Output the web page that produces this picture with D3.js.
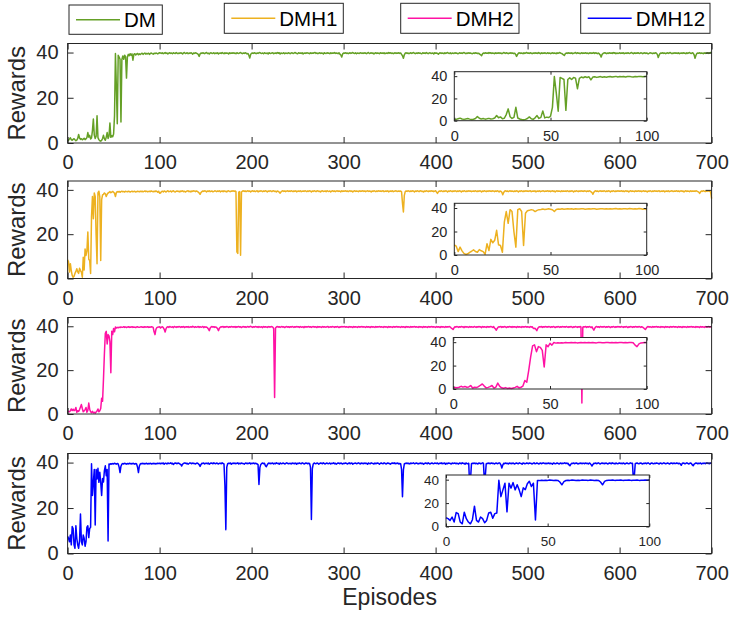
<!DOCTYPE html>
<html>
<head>
<meta charset="utf-8">
<script src="https://cdn.jsdelivr.net/npm/d3@7/dist/d3.min.js"></script>
<style>
  body { margin: 0; background: #ffffff; }
  svg { display: block; font-family: "Liberation Sans", Arial, Helvetica, sans-serif; }
</style>
</head>
<body>
<svg id="chart" width="731" height="617"></svg>
<script>
// rewards per episode, episodes 0..100 (these also fill the zoomed insets)
const dmEarly = [
  1.0,1.2,1.8,2.3,1.5,1.2,1.6,1.9,1.4,1.0,
  1.3,2.0,3.8,2.2,1.6,1.9,1.4,1.7,2.1,1.5,
  1.8,2.4,4.6,2.6,3.4,1.8,2.2,5.5,10.6,3.5,
  2.0,3.0,12.0,2.4,1.5,1.0,0.8,1.2,2.0,3.4,
  1.8,1.2,2.6,4.6,2.0,3.0,8.8,2.5,3.2,2.8,
  4.0,12.0,39.6,25.0,8.5,38.8,38.0,37.0,9.3,37.0,
  38.5,37.0,38.8,38.2,28.7,38.0,39.2,38.6,39.5,38.8,
  39.4,36.6,39.2,39.5,38.9,39.3,39.6,39.0,39.4,39.1,
  39.5,39.7,39.2,39.5,39.8,39.3,39.6,39.4,39.7,39.2,
  39.6,39.8,39.5,39.3,39.7,39.5,39.8,39.6,39.4,39.7,
  39.9
];
const dmh1Early = [
  8.5,7.5,2.9,6.7,3.5,1.4,0.5,1.0,2.3,3.2,
  4.4,3.0,2.3,4.6,3.6,2.9,0.6,9.6,3.8,13.3,
  10.4,12.5,21.0,8.7,8.1,2.3,28.0,37.0,27.0,38.6,
  37.0,19.7,6.7,38.6,39.4,37.0,8.1,35.6,37.7,38.0,
  38.6,38.2,37.0,38.0,38.6,38.8,39.2,38.7,39.0,39.3,
  38.9,38.5,37.0,38.8,39.2,39.0,39.3,38.9,39.2,39.4,
  39.1,39.3,39.0,39.4,39.2,39.1,39.4,39.3,39.0,39.2,
  39.4,39.1,39.3,39.4,39.0,39.2,39.4,39.3,39.1,39.4,
  39.2,39.4,39.1,39.3,39.5,39.2,39.4,39.1,39.3,39.4,
  39.2,39.5,39.3,39.1,39.4,39.2,39.5,39.3,38.9,39.4,
  38.5
];
const dmh2Early = [
  1.0,1.2,1.0,1.5,2.3,1.6,2.2,1.5,1.8,3.0,
  0.8,1.5,1.2,2.0,3.2,4.3,2.5,1.0,1.4,2.0,
  3.0,0.8,1.6,5.0,2.2,1.0,0.6,1.2,0.5,0.8,
  0.4,0.9,1.4,2.3,1.0,1.5,2.5,7.2,5.8,16.0,
  27.5,36.8,37.7,31.9,36.2,35.6,33.0,18.8,37.7,36.2,
  39.0,37.5,39.7,39.2,39.5,39.3,39.6,39.4,39.7,39.5,
  39.6,39.8,39.5,39.7,39.4,39.6,39.8,39.5,39.7,39.6,
  39.8,39.5,39.7,39.6,39.4,39.7,39.8,39.6,39.5,39.7,
  39.8,39.6,39.7,39.5,39.8,39.6,39.7,39.8,39.5,39.7,
  39.6,39.8,39.7,39.5,37.5,36.2,38.6,39.4,39.6,39.7,
  39.8
];
const dmh12Early = [
  7.5,6.7,5.2,8.1,3.8,11.9,11.0,3.8,2.3,12.2,
  6.7,3.8,2.3,5.8,17.4,5.2,3.8,8.1,6.7,3.2,
  5.2,11.6,12.2,7.0,11.0,11.5,39.5,25.5,31.3,37.0,
  12.5,37.0,32.8,37.5,31.3,35.7,31.3,25.5,33.0,31.5,
  36.5,38.6,34.2,37.0,5.5,39.4,39.2,39.5,39.3,39.6,
  39.4,39.7,39.5,39.3,39.6,39.4,38.0,35.6,38.4,39.3,
  39.6,39.4,39.7,39.5,39.3,39.6,39.4,39.7,39.5,39.6,
  39.4,39.7,39.5,39.3,39.6,39.4,38.0,35.6,38.5,39.4,
  39.6,39.5,39.7,39.4,39.6,39.5,39.7,39.4,39.6,39.5,
  39.7,39.4,39.6,39.5,39.7,39.4,39.6,39.5,39.7,39.6,
  39.7
];

// rewards per episode, episodes 101..700 (20 per row)
const dmLate = [
  39.8,39.6,39.9,39.5,39.7,40.0,39.6,39.8,39.4,39.7,39.9,39.6,39.8,39.5,39.9,39.7,39.6,40.0,39.7,39.5,
  39.8,39.6,39.9,39.7,39.4,39.8,40.0,39.6,39.7,39.9,39.5,39.8,39.6,39.9,39.7,39.3,39.8,39.6,39.9,39.7,
  39.5,39.2,38.3,39.4,39.8,39.6,39.9,39.7,39.5,39.8,40.0,39.6,39.7,39.4,39.8,39.9,39.6,39.7,39.9,39.5,
  39.8,39.6,39.9,39.4,39.7,39.8,39.6,40.0,39.7,39.5,39.9,39.6,39.8,39.7,39.4,39.9,39.6,39.8,39.7,39.9,
  39.6,39.8,39.5,39.9,39.7,39.6,39.8,40.0,39.7,39.5,39.8,39.6,39.9,39.7,39.4,39.6,38.8,37.6,39.2,39.7,
  39.8,39.6,39.9,39.7,39.5,39.8,39.6,39.9,40.0,39.7,39.6,39.8,39.5,39.9,39.7,39.6,39.8,39.4,39.9,39.7,
  39.6,39.8,39.9,39.5,39.7,39.8,39.6,40.0,39.7,39.9,39.4,39.8,39.6,39.7,39.9,39.5,39.8,39.7,39.6,39.9,
  39.7,39.5,39.8,39.9,39.6,39.7,40.0,39.8,39.6,39.5,39.9,39.7,39.8,39.6,39.9,39.4,39.7,39.8,39.6,39.9,
  39.8,39.7,39.5,39.9,39.6,39.8,39.7,39.9,40.0,39.6,39.8,39.5,39.7,39.9,39.6,39.8,39.7,39.4,39.9,39.7,
  39.6,39.9,39.7,39.8,39.5,39.9,39.6,39.8,39.7,40.0,39.6,39.8,39.7,39.5,39.9,39.3,38.9,38.0,39.4,39.8,
  39.7,39.9,39.6,39.8,39.5,39.7,39.9,39.6,39.8,40.0,39.7,39.6,39.9,39.5,39.8,39.7,39.6,39.9,39.8,39.6,
  39.8,39.6,39.9,39.7,39.5,39.8,40.0,39.6,39.7,39.9,39.6,39.8,39.4,39.7,39.9,39.6,39.8,39.7,39.5,39.9,
  39.7,39.8,39.6,39.9,39.5,39.7,39.8,39.6,40.0,39.7,39.9,39.6,39.8,39.5,39.7,39.9,39.6,39.8,39.7,39.9,
  39.6,39.8,39.2,38.6,37.5,39.0,39.7,39.9,39.6,39.8,39.5,39.7,39.9,39.6,39.8,40.0,39.7,39.5,39.8,39.6,
  39.9,39.7,39.8,39.6,39.5,39.9,39.7,39.8,39.6,40.0,39.7,39.5,39.8,39.9,39.6,39.7,39.8,39.4,39.9,39.7,
  39.8,39.6,39.3,39.7,39.9,39.6,39.8,39.7,39.5,39.9,39.6,39.8,40.0,39.7,39.6,39.9,39.5,39.8,39.7,39.6,
  39.9,39.7,39.8,39.5,39.6,39.9,39.7,39.8,39.6,39.9,40.0,39.7,39.5,39.8,39.6,39.9,39.7,39.8,39.6,39.5,
  39.8,39.6,39.9,39.7,39.8,39.5,39.7,39.3,39.0,38.6,39.4,39.8,39.6,39.9,39.7,39.8,39.6,40.0,39.7,39.9,
  39.6,39.8,39.7,39.5,39.9,39.6,39.8,39.7,39.9,39.6,39.8,39.5,39.7,40.0,39.8,39.6,39.9,39.7,39.5,39.8,
  39.7,39.9,39.6,39.8,39.5,39.7,39.2,38.3,39.1,39.7,39.9,39.6,39.8,39.7,39.5,39.9,39.6,39.8,40.0,39.7,
  39.8,39.6,39.9,39.7,39.5,39.8,39.6,39.9,39.7,39.8,39.6,40.0,39.7,39.5,39.9,39.6,39.8,39.7,39.9,39.6,
  39.7,39.9,39.6,39.8,39.5,39.7,39.9,39.6,39.8,39.7,39.5,39.9,39.6,39.8,40.0,39.7,39.6,39.3,39.0,38.7,
  39.5,39.8,39.6,39.9,39.7,39.8,39.6,39.9,39.5,39.7,39.8,40.0,39.6,39.9,39.7,39.8,39.5,39.7,39.9,39.6,
  39.8,39.7,39.9,39.6,39.8,39.5,39.7,39.9,39.6,39.8,39.7,40.0,39.6,39.9,39.7,39.5,39.8,39.4,38.9,38.0,
  39.2,39.6,39.8,39.9,39.7,39.5,39.8,39.6,39.9,39.7,39.8,39.6,40.0,39.7,39.9,39.5,39.8,39.6,39.7,39.9,
  39.6,39.8,39.7,39.9,39.5,39.7,39.8,39.6,39.9,39.7,39.6,39.8,40.0,39.7,39.5,39.9,39.6,39.8,39.7,39.9,
  39.7,39.6,39.9,39.8,39.5,39.7,39.9,39.6,39.8,39.7,39.4,39.6,39.9,39.8,39.7,39.5,39.8,39.6,39.9,39.7,
  39.2,37.8,38.9,39.6,39.8,39.7,39.9,39.6,39.8,39.5,39.7,39.9,39.6,39.8,40.0,39.7,39.5,39.8,39.6,39.9,
  39.7,39.8,39.6,39.9,39.5,39.7,39.8,39.6,39.9,39.7,39.8,39.5,39.9,39.6,39.8,40.0,39.7,39.6,39.9,39.7,
  39.0,37.5,38.8,39.6,39.8,39.7,39.9,39.6,39.8,39.7,39.5,39.9,39.6,39.8,39.7,39.9,39.6,39.8,40.0,39.8
];
const dmh1Late = [
  38.6,39.2,39.4,39.1,39.5,39.3,39.0,39.4,39.6,39.2,39.3,39.5,39.1,39.4,39.6,39.2,39.0,39.4,39.5,39.3,
  39.4,39.1,39.5,39.3,39.6,39.2,39.4,39.0,39.3,39.5,39.6,39.2,39.4,39.1,39.5,39.3,39.6,39.4,39.2,39.5,
  39.3,39.0,38.6,38.0,38.8,39.2,39.5,39.3,39.6,39.4,39.1,39.5,39.3,39.6,39.2,39.4,39.5,39.1,39.3,39.6,
  39.4,39.2,39.5,39.3,39.6,39.1,39.4,39.5,39.2,39.6,39.3,39.4,39.1,39.5,39.6,39.3,39.2,39.5,39.4,39.6,
  39.3,39.5,39.2,12.0,11.3,39.0,39.2,10.5,39.0,39.4,39.6,39.3,39.5,39.2,39.4,39.6,39.3,39.5,39.1,39.4,
  39.6,39.3,39.5,39.2,39.4,39.6,39.1,39.5,39.3,39.6,39.4,39.2,39.5,39.3,39.6,39.4,39.1,39.5,39.3,39.6,
  39.4,39.2,39.5,39.6,39.3,39.4,39.1,39.5,39.3,39.0,38.5,39.1,39.4,39.6,39.3,39.5,39.2,39.4,39.6,39.3,
  39.5,39.3,39.6,39.4,39.2,39.5,39.3,39.6,39.1,39.4,39.5,39.3,39.6,39.2,39.4,39.5,39.3,39.6,39.4,39.2,
  39.5,39.3,39.6,39.4,39.1,39.5,39.3,39.6,39.4,39.2,39.5,39.6,39.3,39.4,39.1,39.5,39.6,39.3,39.4,39.5,
  39.2,39.6,39.4,39.3,39.5,39.1,39.4,39.6,39.3,39.5,39.2,39.4,39.6,39.3,39.5,39.4,39.1,39.6,39.3,39.5,
  39.4,39.6,39.3,39.5,39.2,39.4,39.6,39.3,39.5,39.1,39.4,39.6,39.3,39.5,39.4,39.2,39.6,39.3,39.5,39.4,
  39.6,39.3,39.5,39.2,39.4,39.6,39.3,39.5,39.4,39.1,39.5,39.3,39.6,39.4,39.2,39.5,39.3,39.6,39.4,39.5,
  39.3,39.5,39.6,39.2,39.4,39.5,39.3,39.6,39.1,39.4,39.5,39.3,39.6,39.2,39.4,39.5,39.6,39.3,39.4,39.5,
  39.3,39.5,39.1,34.0,30.0,37.5,39.2,39.5,39.3,39.6,39.4,39.2,39.5,39.3,39.6,39.4,39.1,39.5,39.3,39.6,
  39.4,39.2,39.5,39.6,39.3,39.4,39.1,39.5,39.3,39.6,39.4,39.2,39.5,39.3,39.6,39.4,39.5,39.2,39.4,39.6,
  39.0,38.4,39.1,39.5,39.3,39.6,39.4,39.2,39.5,39.3,39.6,39.4,39.1,39.5,39.3,39.6,39.4,39.2,39.5,39.3,
  39.6,39.4,39.2,39.5,39.3,39.6,39.4,39.1,39.5,39.3,39.6,39.4,39.2,39.5,39.3,39.6,39.4,39.5,39.2,39.4,
  39.5,39.3,39.6,39.4,39.2,39.5,39.3,39.6,39.4,39.1,39.5,39.3,39.6,39.4,39.2,39.5,39.3,39.6,39.4,39.5,
  39.3,39.6,39.4,39.2,39.5,39.3,39.6,39.4,39.1,39.5,39.3,38.9,37.8,38.8,39.4,39.6,39.3,39.5,39.2,39.4,
  39.6,39.3,39.5,39.4,39.2,39.5,39.3,39.6,39.4,39.1,39.5,39.3,39.6,39.4,39.2,39.5,39.3,39.6,39.4,39.5,
  39.3,39.5,39.6,39.2,39.4,39.5,39.3,39.6,39.1,39.4,39.5,39.3,39.6,39.2,39.4,39.5,39.6,39.3,39.4,39.5,
  39.4,39.6,39.3,39.5,39.2,39.4,39.6,39.3,39.5,39.1,39.4,39.6,39.3,39.5,39.4,39.2,39.6,39.3,39.5,39.4,
  39.5,39.3,39.6,39.4,39.2,39.5,39.3,39.6,39.4,39.1,39.5,39.3,39.6,39.4,39.2,39.5,39.3,39.6,39.4,39.5,
  39.3,39.6,39.4,39.2,39.5,39.3,39.6,39.4,39.1,38.8,38.0,38.9,39.4,39.6,39.3,39.5,39.2,39.4,39.6,39.3,
  39.5,39.3,39.6,39.4,39.2,39.5,39.3,39.6,39.4,39.1,39.5,39.3,39.6,39.4,39.2,39.5,39.3,39.6,39.4,39.5,
  39.4,39.6,39.3,39.5,39.2,39.4,39.6,39.3,39.5,39.1,39.4,39.6,39.3,39.5,39.4,39.2,39.6,39.3,39.5,39.4,
  39.6,39.3,39.5,39.2,39.4,39.6,39.3,39.5,39.4,39.1,39.5,39.3,39.6,39.4,39.2,39.5,39.3,39.6,39.4,39.5,
  39.3,39.5,39.6,39.2,39.4,39.5,39.3,39.6,39.1,39.4,39.5,39.3,39.6,39.2,39.4,39.5,39.6,39.3,39.4,39.5,
  39.4,39.6,39.3,39.5,39.2,39.4,39.6,39.3,39.5,39.1,39.4,39.6,39.3,39.5,39.4,39.2,39.6,39.3,39.5,39.4,
  39.5,39.3,39.6,39.4,39.2,39.0,38.4,39.1,39.5,39.3,39.6,39.4,39.2,39.5,39.3,39.6,39.4,39.5,38.9,36.0
];
const dmh2Late = [
  39.2,39.6,39.8,39.4,38.6,37.4,38.9,39.6,39.8,39.5,39.9,39.7,39.6,39.8,39.4,39.9,39.7,39.5,39.8,39.6,
  39.9,39.7,39.5,39.8,39.6,39.9,39.4,39.7,39.8,39.6,39.9,39.5,39.7,39.8,39.6,40.0,39.7,39.5,39.8,39.6,
  39.7,39.9,39.5,39.8,39.6,39.7,39.9,39.4,39.8,39.6,39.7,39.3,38.8,38.0,39.2,39.7,39.9,39.6,39.8,39.5,
  39.7,39.4,38.9,38.0,39.1,39.6,39.8,39.7,39.9,39.5,39.8,39.6,39.9,39.7,39.5,39.8,39.6,39.9,39.7,39.8,
  39.6,39.9,39.5,39.8,39.7,39.9,39.6,39.8,39.4,39.7,39.9,39.6,39.8,39.5,39.7,39.9,39.6,39.8,40.0,39.7,
  39.5,39.8,39.6,39.9,39.7,39.8,39.5,39.9,39.6,39.7,39.8,39.4,39.9,39.6,39.8,39.7,39.5,39.9,39.6,39.8,
  39.7,39.9,39.6,39.0,7.5,39.2,39.7,39.9,39.6,39.8,39.5,39.7,39.9,39.6,39.8,39.4,39.7,39.9,39.6,39.8,
  39.5,39.8,39.6,39.9,39.7,39.5,39.8,39.6,39.9,39.7,39.8,39.5,39.9,39.6,39.7,39.8,39.4,39.9,39.6,39.8,
  39.7,39.9,39.6,39.8,39.5,39.7,39.9,39.6,39.8,39.7,39.4,39.9,39.6,39.8,39.7,39.5,39.9,39.6,39.8,39.7,
  39.6,39.8,39.9,39.5,39.7,39.8,39.6,39.9,39.7,39.5,39.8,39.6,39.9,39.7,39.4,39.8,39.6,39.9,39.7,39.8,
  39.9,39.6,39.8,39.7,39.5,39.9,39.6,39.8,39.7,39.4,39.9,39.6,39.8,39.7,39.5,39.9,39.6,39.8,39.7,39.9,
  39.6,39.8,39.7,39.5,39.9,39.6,39.8,39.7,39.4,39.9,39.6,39.8,39.7,39.5,39.9,39.6,39.8,39.7,39.9,39.6,
  39.8,39.7,39.5,39.9,39.6,39.8,39.7,39.4,39.9,39.6,39.8,39.7,39.5,39.9,39.6,39.8,39.7,39.9,39.6,39.8,
  39.7,39.5,39.9,39.6,39.8,39.7,39.4,39.9,39.6,39.8,39.7,39.5,39.9,39.6,39.8,39.7,39.9,39.6,39.8,39.7,
  39.5,39.9,39.6,39.8,39.7,39.4,39.9,39.6,39.8,39.7,39.5,39.9,39.6,39.8,39.7,39.9,39.6,39.8,39.7,39.5,
  39.9,39.6,39.8,39.7,39.4,39.9,39.6,39.8,39.7,39.5,39.9,39.6,39.8,39.7,39.9,39.6,39.2,38.9,38.5,39.3,
  39.8,39.6,39.9,39.7,39.5,39.8,39.6,39.9,39.7,39.8,39.4,39.9,39.6,39.8,39.7,39.5,39.9,39.6,39.8,39.7,
  39.6,39.9,39.7,39.5,39.8,39.6,39.9,39.7,39.8,39.4,39.9,39.6,39.8,39.7,39.5,39.9,39.6,39.8,39.7,39.9,
  39.7,39.5,39.9,39.2,38.8,38.2,39.0,39.6,39.8,39.7,39.9,39.5,39.8,39.6,39.9,39.7,39.4,39.8,39.6,39.9,
  39.7,39.8,39.5,39.9,39.6,39.8,39.7,39.4,39.9,39.6,39.8,39.7,39.5,39.9,39.6,39.8,39.7,39.9,39.6,39.8,
  39.7,39.5,39.9,39.6,39.8,39.2,38.9,39.1,38.6,38.0,39.0,39.6,39.8,39.7,39.9,39.5,39.8,39.6,39.9,39.7,
  39.8,39.6,39.9,39.7,39.5,39.8,39.6,39.9,39.7,39.4,39.8,39.6,39.9,39.7,39.5,39.8,39.6,39.9,39.7,39.8,
  39.6,39.9,39.7,39.5,39.8,39.6,39.9,39.7,39.4,39.8,39.6,39.9,39.7,39.5,39.8,39.6,39.9,39.7,5.0,39.6,
  39.8,39.7,39.9,39.5,39.8,39.6,39.9,39.7,39.4,39.8,38.9,38.2,39.1,39.7,39.9,39.6,39.8,39.5,39.9,39.7,
  39.8,39.6,39.9,39.7,39.5,39.8,39.6,39.9,39.7,39.4,39.8,39.6,39.9,39.7,39.5,39.8,39.6,39.9,39.7,39.8,
  39.6,39.9,39.7,39.5,39.8,39.6,39.9,39.7,39.4,39.8,39.6,39.9,39.7,39.5,39.8,39.6,39.9,39.7,39.8,39.6,
  39.9,39.7,39.5,39.8,39.6,39.3,38.9,38.5,39.2,39.7,39.9,39.6,39.8,39.7,39.5,39.9,39.6,39.8,39.7,39.9,
  39.6,39.8,39.7,39.5,39.9,39.6,39.8,39.7,39.4,39.9,39.6,39.8,39.7,39.5,39.9,39.6,39.8,39.7,39.9,39.6,
  39.8,39.7,39.5,39.9,39.6,39.8,39.7,39.4,39.9,39.6,39.8,39.7,39.5,39.9,39.6,39.8,39.7,39.9,39.6,39.8,
  39.7,39.5,39.9,39.6,39.8,39.7,39.4,39.9,39.6,39.8,39.7,39.5,39.9,39.6,39.8,39.7,39.9,39.6,39.8,39.9
];
const dmh12Late = [
  39.5,39.7,39.6,39.8,39.3,39.7,39.7,39.4,39.8,39.6,39.6,39.9,39.5,39.7,39.2,39.6,39.8,39.7,39.5,39.8,
  39.7,39.4,39.2,38.5,39.3,39.6,39.8,39.8,39.5,39.7,39.3,39.6,39.9,39.7,39.5,39.8,39.6,39.6,39.4,39.7,
  39.8,39.5,39.1,38.3,39.2,39.7,39.6,39.8,39.4,39.7,39.7,39.5,39.8,39.3,39.6,39.8,39.7,39.5,39.9,39.6,
  39.5,39.8,39.6,39.4,39.7,39.7,39.5,39.9,39.6,39.4,30.0,10.5,38.0,39.5,39.7,39.6,39.8,39.3,39.7,39.6,
  39.8,39.5,39.7,39.6,39.9,39.4,39.7,39.5,39.8,39.6,39.6,39.3,39.7,39.8,39.5,39.7,39.6,39.9,39.4,39.7,
  39.6,39.8,39.5,39.7,39.6,39.4,39.1,30.4,37.8,39.2,39.6,39.8,39.5,39.7,38.6,38.2,39.0,39.6,39.8,39.5,
  39.7,39.6,39.8,39.4,39.7,39.5,39.9,39.6,39.7,39.3,39.8,39.6,39.5,39.8,39.7,39.4,39.6,39.9,39.7,39.5,
  39.6,39.7,39.4,39.8,39.6,39.7,39.5,39.8,39.3,39.7,39.6,39.8,39.6,39.5,39.9,39.7,39.4,39.6,39.8,39.7,
  39.5,39.7,39.6,38.0,15.0,37.2,39.4,39.8,39.6,39.5,39.8,39.7,39.3,39.6,39.8,39.7,39.5,39.9,39.6,39.4,
  39.7,39.8,39.5,39.6,39.8,39.4,39.7,39.6,39.9,39.5,39.7,39.3,39.6,39.8,39.7,39.5,39.8,39.6,39.4,39.7,
  39.6,39.8,39.7,39.4,39.6,39.9,39.5,39.7,39.8,39.3,39.6,39.7,39.8,39.5,39.6,39.9,39.7,39.4,39.8,39.6,
  39.7,39.5,39.8,39.6,39.7,39.3,39.8,39.6,39.5,39.9,39.7,39.6,39.4,39.8,39.5,39.7,39.8,39.6,39.3,39.7,
  39.8,39.6,39.5,39.9,39.7,39.4,39.6,39.8,39.7,39.5,39.3,39.7,39.8,39.6,39.9,39.5,39.7,39.6,39.8,39.4,
  39.6,39.5,37.0,25.0,36.8,39.4,39.7,39.6,39.8,39.5,39.7,39.4,39.8,39.6,39.7,39.9,39.5,39.6,39.8,39.7,
  39.4,39.7,39.6,39.8,39.5,39.7,39.3,39.6,39.8,39.7,39.5,39.9,39.6,39.4,39.7,39.8,39.6,39.5,39.8,39.7,
  39.6,39.8,39.4,39.7,39.6,39.9,39.5,39.7,39.6,39.8,39.3,39.7,39.5,39.8,39.7,39.6,39.4,39.8,39.6,39.7,
  39.8,39.5,39.7,39.6,39.4,39.8,39.7,39.5,39.9,39.6,39.7,39.3,39.8,39.6,39.5,39.7,30.0,33.0,39.5,39.7,
  39.6,39.8,39.5,39.7,39.6,39.4,39.8,39.7,39.5,39.6,39.9,39.7,32.0,34.0,39.4,39.7,39.6,39.8,39.5,39.7,
  39.8,39.6,39.7,39.4,39.7,39.8,39.5,39.6,39.9,39.7,39.0,37.6,38.9,39.7,39.5,39.8,39.6,39.7,39.4,39.8,
  39.6,39.7,39.5,39.8,39.6,39.4,39.7,39.8,39.6,39.5,39.9,39.7,39.6,39.3,39.8,39.7,39.5,39.6,39.8,39.7,
  39.5,39.8,39.7,39.6,39.4,39.7,39.9,39.5,39.6,39.8,39.7,39.4,39.6,39.8,39.5,39.7,39.9,39.6,39.7,39.5,
  39.7,39.6,39.8,39.5,39.7,39.6,39.3,39.8,39.7,39.5,39.6,39.8,39.7,39.4,39.6,39.8,39.5,39.7,39.6,39.9,
  39.6,39.8,39.5,39.7,39.0,38.6,39.3,39.7,39.6,39.8,39.5,39.7,39.8,39.6,39.4,39.7,39.6,39.8,39.5,39.7,
  39.7,39.5,39.8,39.6,39.7,39.4,39.8,39.6,39.1,38.5,39.2,39.7,39.6,39.8,39.5,39.7,39.9,39.6,39.4,39.7,
  39.8,39.6,39.7,39.5,39.8,39.7,39.4,39.6,39.8,39.7,39.5,39.9,39.6,39.7,39.4,39.8,39.6,39.5,39.7,39.8,
  39.6,39.7,39.5,39.8,39.6,39.4,39.7,39.8,39.6,39.5,39.7,39.9,39.6,39.7,32.0,34.0,39.5,39.7,39.8,39.6,
  39.5,39.7,39.8,39.6,39.4,39.7,39.6,39.8,39.5,39.7,39.9,39.6,39.3,39.7,39.8,39.6,39.5,39.7,39.6,39.8,
  39.7,39.6,39.4,39.8,39.7,39.5,39.6,39.9,39.7,39.5,39.6,39.8,39.7,39.4,39.6,39.8,39.7,39.5,39.8,39.6,
  39.6,39.8,39.7,39.5,39.7,39.4,38.8,39.6,39.8,39.7,39.5,39.6,39.9,39.7,39.4,39.6,39.8,39.6,39.0,38.6,
  39.3,39.6,39.8,39.7,39.5,39.7,39.6,39.8,39.4,39.7,39.6,39.8,39.5,39.7,39.9,39.6,39.7,39.5,39.8,39.7
];

const seriesNames = ["DM", "DMH1", "DMH2", "DMH12"];
const xTicks = [0, 100, 200, 300, 400, 500, 600, 700];
const yTicks = [0, 20, 40];
const insetXTicks = [0, 50, 100];

const allEarly = [dmEarly, dmh1Early, dmh2Early, dmh12Early];
const allLate = [dmLate, dmh1Late, dmh2Late, dmh12Late];

// layout
var colors = ["#65a026", "#edb120", "#ff12a4", "#0000ff"];
var axisColor = "#262626";
var panels = [
    { top: 43.5, bottom: 143, inset: { x0: 454.3, x1: 646.7, y0: 71.7, y1: 120.7, font: 14.5 } },
    { top: 181, bottom: 278.5, inset: { x0: 454.3, x1: 646.7, y0: 203.3, y1: 255, font: 14.5 } },
    { top: 317.5, bottom: 414, inset: { x0: 453.3, x1: 646.7, y0: 337.5, y1: 389, font: 14.5 } },
    { top: 453.5, bottom: 553.5, inset: { x0: 446, x1: 649.3, y0: 475, y1: 526.5, font: 13.5 } }
];
var legendBoxes = [
    { x0: 69, x1: 162.3, y0: 5, y1: 34.3 },
    { x0: 224.3, x1: 343.3, y0: 3.3, y1: 33.3 },
    { x0: 400.7, x1: 519, y0: 3.3, y1: 33.3 },
    { x0: 580.7, x1: 710, y0: 3.3, y1: 33.3 }
];

var svg = d3.select("#chart");
var x = d3.scaleLinear().domain([0, 700]).range([67.6, 711.6]);

function styleAxis(g, fontSize) {
    g.select(".domain").remove();
    g.selectAll("line").attr("stroke", axisColor).attr("stroke-width", 1);
    g.selectAll("text")
        .attr("fill", axisColor)
        .style("font-size", fontSize + "px")
        .style("font-family", "'Liberation Sans', Arial, sans-serif");
}

// draw a boxed axes with inward ticks, like the matlab look
function drawBox(g, xs, ys, xt, yt, tick, fontSize, padX, padY) {
    var r = xs.range(), b = ys.range();
    g.append("g")
        .attr("transform", `translate(0,${b[0]})`)
        .call(d3.axisBottom(xs).tickValues(xt).tickSizeInner(-tick).tickSizeOuter(0).tickPadding(padX))
        .call((a) => styleAxis(a, fontSize));
    g.append("g")
        .attr("transform", `translate(0,${b[1]})`)
        .call(d3.axisTop(xs).tickValues(xt).tickSizeInner(-tick).tickSizeOuter(0).tickFormat(""))
        .call((a) => styleAxis(a, fontSize));
    g.append("g")
        .attr("transform", `translate(${r[0]},0)`)
        .call(d3.axisLeft(ys).tickValues(yt).tickSizeInner(-tick).tickSizeOuter(0).tickPadding(padY))
        .call((a) => styleAxis(a, fontSize));
    g.append("g")
        .attr("transform", `translate(${r[1]},0)`)
        .call(d3.axisRight(ys).tickValues(yt).tickSizeInner(-tick).tickSizeOuter(0).tickFormat(""))
        .call((a) => styleAxis(a, fontSize));
    g.append("rect")
        .attr("x", r[0]).attr("y", b[1])
        .attr("width", r[1] - r[0]).attr("height", b[0] - b[1])
        .attr("fill", "none")
        .attr("stroke", axisColor)
        .attr("stroke-width", 1);
}

panels.forEach((p, k) => {
    var data = allEarly[k].concat(allLate[k]);
    var y = d3.scaleLinear().domain([0, 44]).range([p.bottom, p.top]);
    var g = svg.append("g");

    var line = d3.line()
        .x((d, i) => x(i))
        .y((d) => y(d));
    g.append("path")
        .datum(data)
        .attr("d", line)
        .attr("fill", "none")
        .attr("stroke", colors[k])
        .attr("stroke-width", 1.5)
        .attr("stroke-linejoin", "round");

    drawBox(g, x, y, xTicks, yTicks, 6, 20, 12, 9);

    g.append("text")
        .attr("transform", `translate(25,${(p.top + p.bottom) / 2}) rotate(-90)`)
        .attr("text-anchor", "middle")
        .attr("fill", axisColor)
        .style("font-size", "24px")
        .text("Rewards");

    // inset zoom on the first 100 episodes
    var ins = p.inset;
    var xi = d3.scaleLinear().domain([0, 100]).range([ins.x0, ins.x1]);
    var yi = d3.scaleLinear().domain([0, 44]).range([ins.y1, ins.y0]);
    var gi = svg.append("g");
    gi.append("rect")
        .attr("x", ins.x0).attr("y", ins.y0)
        .attr("width", ins.x1 - ins.x0).attr("height", ins.y1 - ins.y0)
        .attr("fill", "#ffffff");
    gi.append("path")
        .datum(allEarly[k])
        .attr("d", d3.line().x((d, i) => xi(i)).y((d) => yi(d)))
        .attr("fill", "none")
        .attr("stroke", colors[k])
        .attr("stroke-width", 1.5)
        .attr("stroke-linejoin", "round");
    drawBox(gi, xi, yi, insetXTicks, yTicks, 3, ins.font, 10, 7);
});

svg.append("text")
    .attr("x", (x(0) + x(700)) / 2)
    .attr("y", 605)
    .attr("text-anchor", "middle")
    .attr("fill", axisColor)
    .style("font-size", "23px")
    .text("Episodes");

// legend boxes
legendBoxes.forEach((b, k) => {
    var lg = svg.append("g");
    lg.append("rect")
        .attr("x", b.x0).attr("y", b.y0)
        .attr("width", b.x1 - b.x0).attr("height", b.y1 - b.y0)
        .attr("fill", "#ffffff")
        .attr("stroke", axisColor)
        .attr("stroke-width", 1);
    var my = (b.y0 + b.y1) / 2;
    lg.append("line")
        .attr("x1", b.x0 + 7).attr("x2", b.x0 + 51)
        .attr("y1", my).attr("y2", my)
        .attr("stroke", colors[k])
        .attr("stroke-width", 1.5);
    lg.append("text")
        .attr("x", b.x0 + 55)
        .attr("y", my + 7.5)
        .attr("fill", "#000000")
        .style("font-size", "20.5px")
        .text(seriesNames[k]);
});
</script>
</body>
</html>
